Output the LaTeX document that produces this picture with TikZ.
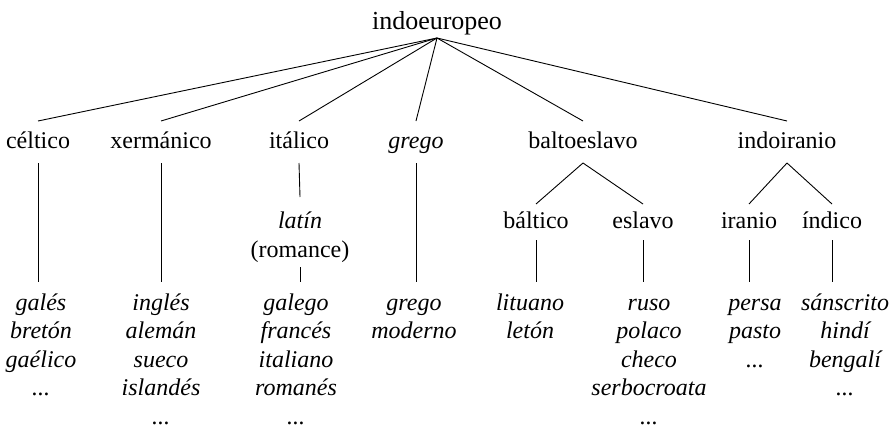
\documentclass[tikz,border=0pt]{standalone}
\usepackage{fontspec}
\setmainfont{Liberation Serif}
\newcommand{\langlist}[1]{\begin{tabular}[t]{@{}c@{}}#1\end{tabular}}

\begin{document}
\begin{tikzpicture}[x=1pt, y=-1pt, line width=0.9pt,
  family/.style={font=\fontsize{24}{29}\selectfont, anchor=base, inner sep=0pt, text height=17pt, text depth=5pt},
  branch/.style={family, outer ysep=7pt},
  leaves/.style={font=\fontsize{24}{28.6}\selectfont\itshape, anchor=base, inner sep=0pt, outer ysep=8pt}]
\useasboundingbox (0,0) rectangle (892,431);

\node[family, font=\fontsize{26}{30}\selectfont, outer ysep=4pt] (root) at (437,29) {indoeuropeo};

% first level
\node[family, outer ysep=10pt] (celtico) at (38,148) {céltico};
\node[family, outer ysep=10pt] (xermanico) at (161,148) {xermánico};
\node[family, outer ysep=10pt] (italico) at (299,148) {itálico};
\node[family, outer ysep=10pt, font=\fontsize{24}{29}\selectfont\itshape] (grego) at (416,148) {grego};
\node[family, outer ysep=10pt] (baltoeslavo) at (583,148) {baltoeslavo};
\node[family, outer ysep=10pt] (indoiranio) at (787,148) {indoiranio};

\foreach \f in {celtico,xermanico,italico,grego,baltoeslavo,indoiranio}
  \draw (root.south) -- (\f.north);

% second level
\node[family, outer ysep=14pt, font=\fontsize{24}{29}\selectfont\itshape] (latin) at (300,228) {latín};
\node[family, outer ysep=5pt] (romance) at (300,257) {(romance)};
\node[branch] (baltico) at (536,228) {báltico};
\node[branch] (eslavo) at (643,228) {eslavo};
\node[branch] (iranio) at (749,228) {iranio};
\node[branch] (indico) at (832,228) {índico};

\draw (italico.south) -- (latin.north);
\draw (baltoeslavo.south) -- (baltico.north);
\draw (baltoeslavo.south) -- (eslavo.north);
\draw (indoiranio.south) -- (iranio.north);
\draw (indoiranio.south) -- (indico.north);

% languages
\node[leaves] (celtlangs) at (41,310) {\langlist{galés\\bretón\\gaélico\\...}};
\node[leaves] (xermlangs) at (161,310) {\langlist{inglés\\alemán\\sueco\\islandés\\...}};
\node[leaves] (romlangs) at (296,310) {\langlist{galego\\francés\\italiano\\romanés\\...}};
\node[leaves] (greglangs) at (414,310) {\langlist{grego\\moderno}};
\node[leaves] (baltlangs) at (530,310) {\langlist{lituano\\letón}};
\node[leaves] (eslavlangs) at (649,310) {\langlist{ruso\\polaco\\checo\\serbocroata\\...}};
\node[leaves] (iranlangs) at (755,310) {\langlist{persa\\pasto\\...}};
\node[leaves] (indlangs) at (845,310) {\langlist{sánscrito\\hindí\\bengalí\\...}};

\draw (celtico.south) -- (celtico.south |- celtlangs.north);
\draw (xermanico.south) -- (xermanico.south |- xermlangs.north);
\draw (romance.south) -- (romance.south |- romlangs.north);
\draw (grego.south) -- (grego.south |- greglangs.north);
\draw (baltico.south) -- (baltico.south |- baltlangs.north);
\draw (eslavo.south) -- (eslavo.south |- eslavlangs.north);
\draw (iranio.south) -- (iranio.south |- iranlangs.north);
\draw (indico.south) -- (indico.south |- indlangs.north);
\end{tikzpicture}
\end{document}
